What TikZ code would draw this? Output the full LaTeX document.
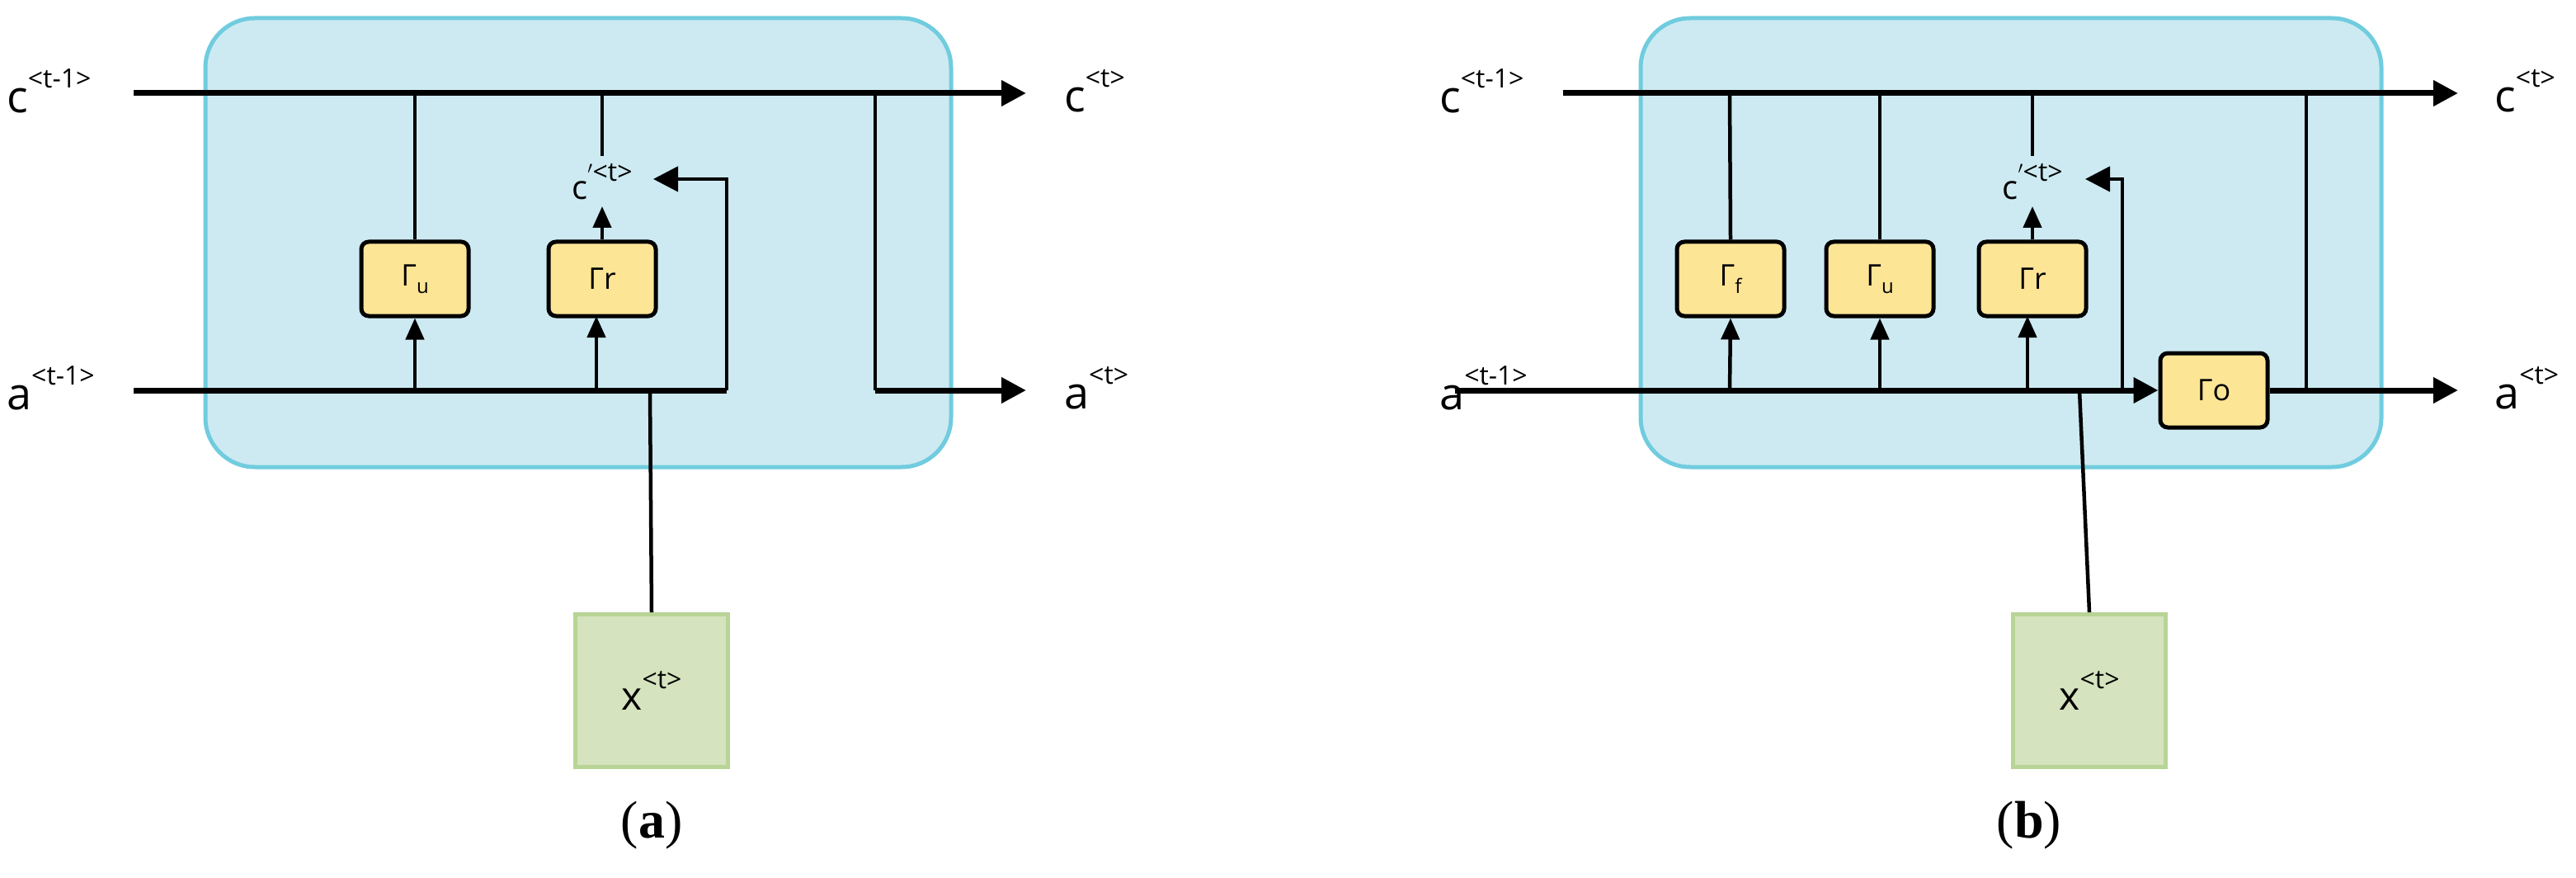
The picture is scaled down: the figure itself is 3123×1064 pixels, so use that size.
\documentclass[tikz,border=0pt]{standalone}
\usepackage{fontspec}
\setmainfont{Open Sans}
\newfontfamily\serf{Liberation Serif}
\usetikzlibrary{arrows.meta,patterns}
\definecolor{cellfill}{RGB}{205,234,242}
\definecolor{celledge}{RGB}{112,204,222}
\definecolor{gatefill}{RGB}{253,229,150}
\definecolor{xfill}{RGB}{213,227,190}
\definecolor{xedge}{RGB}{184,212,150}
\newcommand\lab[2]{#1\raisebox{0.55em}{\fontsize{32}{34}\selectfont #2}}
\tikzset{
 cell/.style={draw=celledge,line width=5pt,fill=cellfill,rounded corners=60pt},
 gate/.style={draw=black,line width=5pt,fill=gatefill,rounded corners=9pt,minimum width=130pt,minimum height=90pt,font=\fontsize{36}{40}\selectfont,inner sep=0pt},
 xbox/.style={draw=xedge,line width=5pt,fill=xfill,minimum width=185pt,minimum height=185pt,font=\fontsize{48}{52}\selectfont},
 main/.style={line width=7pt},
 thin/.style={line width=4.5pt},
 arr/.style={-{Triangle[length=30pt,width=30pt]}},
 sarr/.style={-{Triangle[length=26pt,width=22pt]}},
 lbl/.style={font=\fontsize{54}{58}\selectfont,inner sep=0pt},
 captxt/.style={font=\serf\fontsize{64}{70}\selectfont,inner sep=0pt}
}
\begin{document}
\begin{tikzpicture}[x=1pt,y=-1pt]
\useasboundingbox (0,0) rectangle (3123,1064);
% ---------- panel a
\draw[cell] (249,22) rectangle (1153,566);
\coordinate (ac0) at (162,113); \coordinate (ac1) at (1244,113);
\coordinate (aa0) at (162,473); \coordinate (aa1) at (1244,473);
\node[lbl,anchor=west] (acl) at (8,110) {\lab{c}{<t-1>}};
\node[lbl,anchor=west] (aal) at (8,470) {\lab{a}{<t-1>}};
\node[lbl,anchor=west] (acr) at (1290,110) {\lab{c}{<t>}};
\node[lbl,anchor=west] (aar) at (1290,470) {\lab{a}{<t>}};
\node[gate] (au) at (503,338) {Γ\raisebox{-0.25em}{\fontsize{24}{26}\selectfont u}};
\node[gate] (ar) at (730,338) {Γr};
\node[lbl,font=\fontsize{40}{44}\selectfont] (acp) at (730,220) {\lab{c}{$'$<t>}};
\node[xbox] (ax) at (790,837) {\lab{x}{<t>}};
\coordinate (aj) at (1061,113); \coordinate (ajb) at (1061,473);
\coordinate (afb) at (881,473); \coordinate (aft) at (881,217);
\coordinate (ax0) at (788,473);
\draw[main,arr] (ac0) -- (ac1);
\draw[main] (aa0) -- (afb);
\draw[thin] (503,113) -- (au.north);
\draw[thin] (730,113) -- (730,189);
\draw[thin,sarr] (ar.north) -- (730,250);
\draw[thin,sarr] (503,473) -- (au.south);
\draw[thin,sarr] (723,473) -- (723,383);
\draw[thin,arr] (afb) -- (aft) -- (792,217);
\draw[thin] (ax0) -- (ax.north);
\draw[thin] (aj) -- (ajb);
\draw[main,arr] (ajb) -- (aa1);
\node[captxt] (capa) at (790,1000) {(\textbf{a})};
% ---------- panel b
\draw[cell] (1989,22) rectangle (2887,566);
\coordinate (bc0) at (1895,113); \coordinate (bc1) at (2980,113);
\coordinate (ba0) at (1764,473); \coordinate (ba1) at (2980,473);
\node[lbl,anchor=west] (bcl) at (1745,110) {\lab{c}{<t-1>}};
\node[lbl,anchor=west] (bal) at (1745,470) {\lab{a}{<t-1>}};
\node[lbl,anchor=west] (bcr) at (3024,110) {\lab{c}{<t>}};
\node[lbl,anchor=west] (bar) at (3024,470) {\lab{a}{<t>}};
\node[gate] (bf) at (2098,338) {Γ\raisebox{-0.25em}{\fontsize{24}{26}\selectfont f}};
\node[gate] (bu) at (2279,338) {Γ\raisebox{-0.25em}{\fontsize{24}{26}\selectfont u}};
\node[gate] (br) at (2464,338) {Γr};
\node[gate] (bo) at (2684,473) {Γo};
\node[lbl,font=\fontsize{40}{44}\selectfont] (bcp) at (2464,220) {\lab{c}{$'$<t>}};
\node[xbox] (bx) at (2533,837) {\lab{x}{<t>}};
\coordinate (bfb) at (2573,473); \coordinate (bft) at (2573,217);
\coordinate (bj) at (2796,113); \coordinate (bjb) at (2796,473);
\coordinate (bx0) at (2521,473);
\draw[main,arr] (bc0) -- (bc1);
\draw[main,arr] (ba0) -- (bo.west);
\draw[main,arr] (bo.east) -- (ba1);
\draw[thin] (2097,113) -- (bf.north);
\draw[thin] (2279,113) -- (bu.north);
\draw[thin] (2464,113) -- (2464,189);
\draw[thin,sarr] (br.north) -- (2464,250);
\draw[thin,sarr] (2097,473) -- (bf.south);
\draw[thin,sarr] (2279,473) -- (bu.south);
\draw[thin,sarr] (2458,473) -- (2458,383);
\draw[thin,arr] (bfb) -- (bft) -- (2528,217);
\draw[thin] (bx0) -- (bx.north);
\draw[thin] (bj) -- (bjb);
\node[captxt] (capb) at (2460,1000) {(\textbf{b})};
\end{tikzpicture}
\end{document}
